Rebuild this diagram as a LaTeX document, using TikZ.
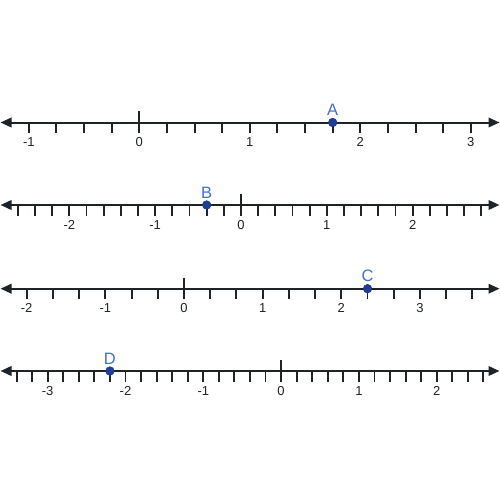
\documentclass[tikz,border=0pt]{standalone}
\usepackage{fontspec}
\setmainfont{Liberation Sans}
\usetikzlibrary{arrows.meta}
\definecolor{axis}{HTML}{1E2328}
\definecolor{ptfill}{HTML}{1F3F96}
\definecolor{ptlab}{HTML}{3F6FD8}
\begin{document}
\begin{tikzpicture}[x=1pt,y=-1pt,
  axisline/.style={line width=2pt, draw=axis, {Triangle[length=11pt,width=9.5pt]}-{Triangle[length=11pt,width=9.5pt]}},
  ticklin/.style={line width=1.9pt, draw=axis},
  numlab/.style={anchor=base, inner sep=0pt, text=axis, font=\fontsize{13}{13}\selectfont},
  ptdot/.style={circle, fill=ptfill, draw=ptfill!80!black, line width=0.5pt, inner sep=0pt, minimum size=8.6pt},
  ptname/.style={anchor=base, inner sep=0pt, text=ptlab, font=\fontsize{16.5}{16.5}\selectfont}]
\useasboundingbox (0,0) rectangle (500,500);
% ---------- line 1 ----------
\coordinate (l1a) at (0.5,122.5);
\coordinate (l1b) at (499.5,122.5);
\draw[axisline] (l1a) -- (l1b);
\foreach \i in {-4,...,12} \draw[ticklin] (139.3+\i*27.625,122.5) -- ++(0,10.5);
\draw[ticklin] (139.3,111.5) -- (139.3,133);
\foreach \v in {-1,...,3} \node[numlab] (l1n\v) at (139.3+\v*110.5,146) {\v};
\node[ptdot] (A) at (139.3+1.75*110.5,122.5) {};
\node[ptname] (Alab) at (139.3+1.75*110.5,116) {A};
% ---------- line 2 ----------
\coordinate (l2a) at (0.5,205);
\coordinate (l2b) at (499.5,205);
\draw[axisline] (l2a) -- (l2b);
\foreach \i in {-13,...,14} \draw[ticklin] (241+\i*17.17,205) -- ++(0,10.5);
\draw[ticklin] (241,194) -- (241,215.5);
\foreach \v in {-2,...,2} \node[numlab] (l2n\v) at (241+\v*85.85,229) {\v};
\node[ptdot] (B) at (241-0.4*85.85,205) {};
\node[ptname] (Blab) at (241-0.4*85.85,198.5) {B};
% ---------- line 3 ----------
\coordinate (l3a) at (0.5,288.7);
\coordinate (l3b) at (499.5,288.7);
\draw[axisline] (l3a) -- (l3b);
\foreach \i in {-6,...,11} \draw[ticklin] (184+\i*26.22,288.7) -- ++(0,10.5);
\draw[ticklin] (184,277.7) -- (184,299.2);
\foreach \v in {-2,...,3} \node[numlab] (l3n\v) at (184+\v*78.66,312) {\v};
\node[ptdot] (C) at (184+7*26.22,288.7) {};
\node[ptname] (Clab) at (184+7*26.22,281.5) {C};
% ---------- line 4 ----------
\coordinate (l4a) at (0.5,371);
\coordinate (l4b) at (499.5,371);
\draw[axisline] (l4a) -- (l4b);
\foreach \i in {-17,...,13} \draw[ticklin] (281.1+\i*15.56,371) -- ++(0,10.5);
\draw[ticklin] (281.1,360) -- (281.1,381.5);
\foreach \v in {-3,...,2} \node[numlab] (l4n\v) at (281.1+\v*77.8,395) {\v};
\node[ptdot] (D) at (281.1-2.2*77.8,371) {};
\node[ptname] (Dlab) at (281.1-2.2*77.8,364.5) {D};
\end{tikzpicture}
\end{document}
